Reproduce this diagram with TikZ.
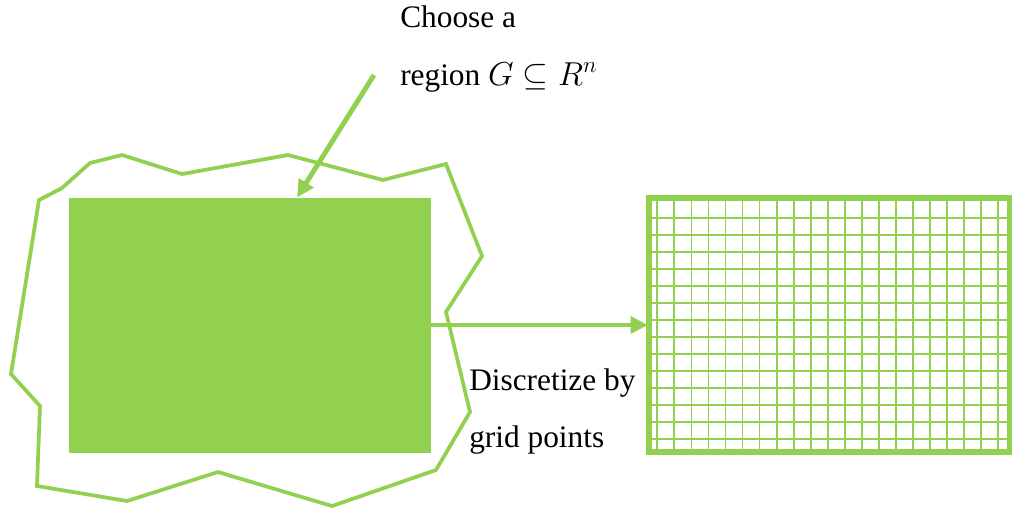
\documentclass[tikz,border=0pt]{standalone}
\usepackage{fontspec}
\setmainfont{Liberation Serif}
\usetikzlibrary{arrows.meta,positioning,calc}
\definecolor{officegreen}{HTML}{92D050}

\begin{document}
\begin{tikzpicture}[
    x=0.75pt, y=-0.75pt,
    blob/.style={
        draw=officegreen,
        line width=2.8pt
    },
    regionbox/.style={
        fill=officegreen,
        inner sep=0pt, outer sep=0pt,
        minimum width=271.5pt,
        minimum height=191.25pt
    },
    gridbox/.style={
        draw=officegreen,
        line width=2.4pt,
        inner sep=0pt, outer sep=0pt,
        minimum width=272.25pt,
        minimum height=192pt
    },
    gridline/.style={draw=officegreen, line width=1.3pt},
    bigarrow/.style={
        -{Triangle[length=13pt,width=12.5pt]},
        draw=officegreen, fill=officegreen,
        line width=3.7pt
    },
    lbl/.style={anchor=base west, inner sep=0pt, font=\fontsize{23.5}{27}\selectfont}
]
    \useasboundingbox (0,0) rectangle (1012,512);

    % Irregular domain
    \draw[blob] (39,200) -- (62,188) -- (90,163) -- (102,160) -- (122,155)
        -- (182,174) -- (288,155) -- (383,180) -- (446,164) -- (482,256)
        -- (446,312) -- (470,412) -- (436,470) -- (332,506) -- (218,472)
        -- (127,501) -- (37,486) -- (40,406) -- (11,374) -- cycle;

    % Chosen region
    \node[regionbox] (region) at (250,325) {};

    % Grid
    \node[gridbox] (grid) at (829.5,325) {};
    \draw[gridline] ($(grid.north west)+(3,3)$) rectangle ($(grid.south east)+(-3,-3)$);
    \foreach \i in {0,...,20}
        \draw[gridline] ($(grid.north west)+(9.3+17.05*\i,3)$) -- ($(grid.south west)+(9.3+17.05*\i,-3)$);
    \foreach \j in {0,...,13}
        \draw[gridline] ($(grid.north west)+(3,20.7+17*\j)$) -- ($(grid.north east)+(-3,20.7+17*\j)$);

    % Labels
    \node[lbl] (choose) at (400,27) {Choose a};
    \node[lbl] (regionG) at (400,85) {region $G \subseteq R^n$};
    \node[lbl] (discr) at (469,390) {Discretize by};
    \node[lbl] (gridpts) at (469,447) {grid points};

    % Arrows
    \coordinate (choosetail) at (374,75);
    \coordinate (regiontop) at ($(region.north)+(47,0)$);
    \draw[bigarrow] (choosetail) -- (regiontop);
    \draw[bigarrow] (region.east) -- (region.east -| grid.west);
\end{tikzpicture}
\end{document}
